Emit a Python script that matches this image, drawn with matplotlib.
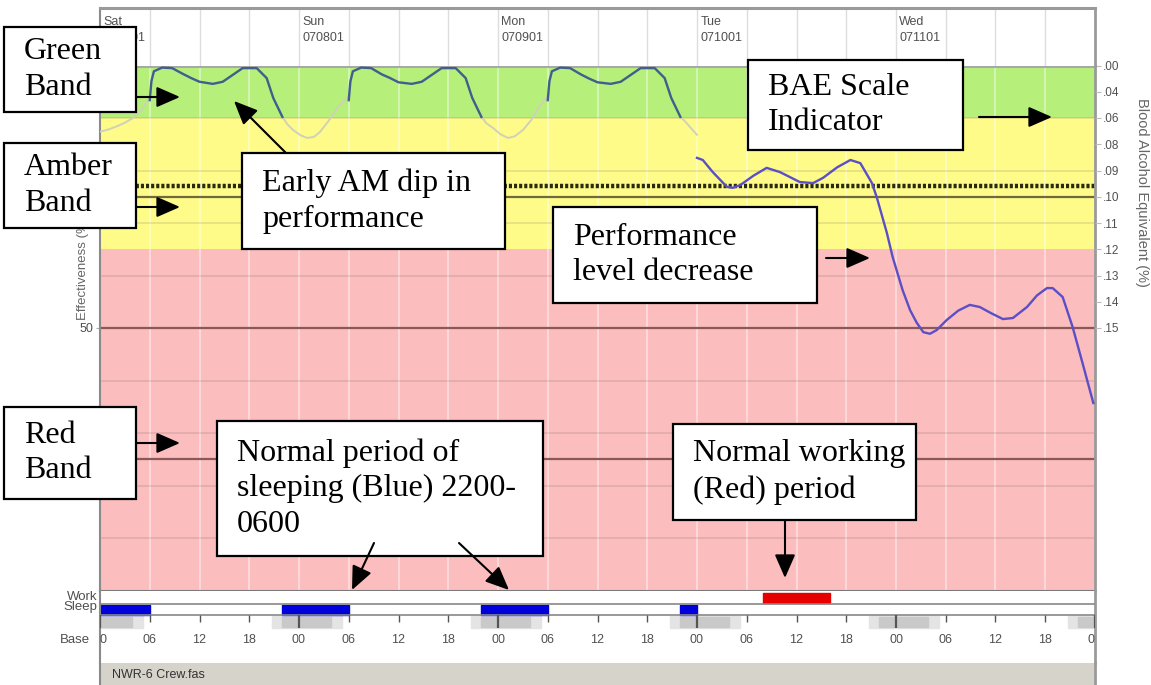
import matplotlib
matplotlib.use("Agg")
import matplotlib.pyplot as plt
from matplotlib.patches import Rectangle, FancyArrowPatch

W, H = 1151, 685

#######################
# Data (hours counted from Sat 00:00, effectiveness in %)
#######################

# awake periods (dark line)
sat_h = [6.0, 6.2, 6.5, 7.5, 8.7, 10.0, 11.0, 12.0, 13.6, 14.8, 16.0, 17.2, 18.9, 20.1, 20.9, 22.0]
sat_eff = [93.4, 97.0, 98.9, 99.6, 99.5, 98.4, 97.6, 96.9, 96.5, 96.9, 98.2, 99.5, 99.5, 97.6, 93.8, 90.2]
sun_h = [30.0, 30.2, 30.5, 31.5, 32.7, 34.0, 35.0, 36.0, 37.6, 38.8, 40.0, 41.2, 42.9, 44.1, 44.9, 46.0]
sun_eff = [93.4, 97.0, 98.9, 99.6, 99.5, 98.3, 97.6, 96.8, 96.5, 96.9, 98.2, 99.5, 99.5, 97.6, 93.8, 90.2]
mon_h = [54.0, 54.2, 54.5, 55.5, 56.7, 58.0, 59.0, 60.0, 61.6, 62.8, 64.0, 65.2, 66.9, 68.1, 68.9, 70.0]
mon_eff = [93.4, 97.0, 98.9, 99.6, 99.5, 98.3, 97.5, 96.8, 96.5, 96.9, 98.2, 99.5, 99.5, 97.6, 93.8, 90.2]
tue_h = [72.0, 72.7, 73.9, 75.6, 76.3, 77.2, 78.8, 80.4, 82.0, 84.4, 86.0, 87.2, 88.9, 90.5,
         91.7, 93.1, 93.7, 94.9, 95.6, 96.8, 97.7, 98.5, 99.3, 100.1, 100.9, 102.1, 103.5,
         104.9, 106.1, 107.5, 108.9, 110.1, 111.8, 113.0, 114.2, 114.9, 116.1, 117.3, 118.5, 119.8]
tue_eff = [82.4, 82.0, 79.7, 76.9, 76.7, 77.2, 79.0, 80.5, 79.7, 77.8, 77.6, 78.6, 80.6, 82.0,
           81.4, 77.6, 74.8, 68.1, 63.5, 57.2, 53.4, 51.0, 49.2, 48.9, 49.6, 51.5, 53.3,
           54.4, 54.0, 52.8, 51.7, 51.9, 54.0, 56.2, 57.6, 57.6, 55.9, 50.2, 43.3, 35.7]

# sleep periods (faint line)
night0_h = [0.0, 1.0, 2.0, 3.0, 4.0, 5.0, 6.0]
night0_eff = [87.4, 87.8, 88.4, 89.1, 90.0, 91.6, 93.8]
night1_h = [22.0, 22.6, 23.3, 24.2, 25.0, 25.8, 26.5, 27.5, 28.9, 29.9]
night1_eff = [90.2, 88.8, 87.7, 86.7, 86.2, 86.4, 87.3, 89.3, 92.5, 94.0]
night2_h = [46.0, 46.6, 47.4, 48.3, 49.2, 50.0, 51.0, 52.0, 53.1, 54.0]
night2_eff = [90.2, 89.0, 88.1, 86.9, 86.2, 86.5, 87.7, 89.6, 92.5, 94.2]
night3_h = [70.0, 70.6, 71.2, 72.0]
night3_eff = [90.2, 89.3, 88.2, 86.8]

# bands
band_low = [90, 65, 0]
band_high = [100, 90, 65]
band_colors = ["#b6ef7a", "#fefb88", "#fbbdbd"]

# right-hand scale
bae_eff = [100, 95, 90, 85, 80, 75, 70, 65, 60, 55, 50]
bae_labels = [".00", ".04", ".06", ".08", ".09", ".10", ".11", ".12", ".13", ".14", ".15"]

# schedule rows
sleep_start = [0, 22, 46, 70]
sleep_end = [6, 30, 54, 72]
work_start = [80]
work_end = [88]
base_start = [-3.3, 20.7, 44.7, 68.7, 92.7, 116.7]
base_end = [5.2, 29.2, 53.2, 77.2, 101.2, 125.2]

day_names = ["Sat", "Sun", "Mon", "Tue", "Wed"]
day_codes = ["070701", "070801", "070901", "071001", "071101"]

#######################
# Figure
#######################
fig = plt.figure(figsize=(W / 100, H / 100), dpi=100)
fig.patch.set_facecolor("white")
ui_font = "Liberation Sans"
ui_col = "#505050"


def ax_at(x0, y0, x1, y1):
    return fig.add_axes([x0 / W, 1 - y1 / H, (x1 - x0) / W, (y1 - y0) / H])


X0, X1 = 100, 1095

# main plot
ax = ax_at(X0, 65.5, X1, 590.5)
ax.set_xlim(0, 120)
ax.set_ylim(0, 100)
for lo, hi, c in zip(band_low, band_high, band_colors):
    ax.axhspan(lo, hi, color=c, lw=0, zorder=0)
for v in range(6, 120, 6):
    ax.axvline(v, color="white", alpha=0.5, lw=1.2, zorder=1)
for v in range(10, 100, 10):
    ax.axhline(v, color="#6a5a5a", alpha=0.16, lw=1.3, zorder=1)
ax.axhline(50, color="#8a5858", lw=1.6, zorder=2)
ax.axhline(25, color="#8a5858", lw=1.6, zorder=2)
ax.axhline(75, color="#6e6a3c", lw=1.6, zorder=2)
ax.axhline(77, color="#2a2a10", lw=3.2, ls=(0, (0.7, 0.45)), zorder=2)

for hh, ee in [(night0_h, night0_eff), (night1_h, night1_eff), (night2_h, night2_eff), (night3_h, night3_eff)]:
    ax.plot(hh, ee, color="#cfd1b8", lw=1.4, zorder=3)
for hh, ee in [(sat_h, sat_eff), (sun_h, sun_eff), (mon_h, mon_eff)]:
    ax.plot(hh, ee, color="#3f5f8c", lw=1.7, zorder=4)
ax.plot(tue_h, tue_eff, color="#5c4fc6", lw=1.7, zorder=4)

ax.set_xticks([])
ax.set_yticks([50])
ax.set_yticklabels(["50"], fontsize=9, color=ui_col, family=ui_font)
ax.tick_params(axis="y", length=3, color="#aaaaaa", pad=2)
ax.spines["left"].set_color("#8a8a8a")
ax.spines["left"].set_linewidth(1.5)
ax.spines["right"].set_color("#9a9a9a")
ax.spines["right"].set_linewidth(2)
ax.spines["top"].set_color("#a8a8a8")
ax.spines["top"].set_linewidth(2.2)
ax.spines["bottom"].set_color("#7a7a7a")
ax.spines["bottom"].set_linewidth(1.5)

axr = ax.twinx()
axr.set_ylim(0, 100)
axr.set_yticks(bae_eff)
axr.set_yticklabels(bae_labels, fontsize=8.5, color=ui_col, family=ui_font)
axr.tick_params(axis="y", length=4, color="#bbbbbb", pad=2)
for s in axr.spines.values():
    s.set_visible(False)

fig.text(83 / W, 1 - 268 / H, "Effectiveness (%)", rotation=90, ha="center", va="center",
         fontsize=9.5, color="#666666", family=ui_font)
fig.text(1142 / W, 1 - 192 / H, "Blood Alcohol Equivalent (%)", rotation=270, ha="center", va="center",
         fontsize=10.5, color="#666666", family=ui_font)

# header with day labels
hd = ax_at(X0, 8, X1, 65.5)
hd.set_xlim(0, 120)
hd.set_ylim(0, 1)
for v in range(6, 120, 6):
    hd.axvline(v, color="#dddddd", lw=1)
for d, (name, code) in enumerate(zip(day_names, day_codes)):
    hd.text(d * 24 + 0.4, 0.76, name, fontsize=9, color=ui_col, va="center", family=ui_font)
    hd.text(d * 24 + 0.4, 0.48, code, fontsize=9, color=ui_col, va="center", family=ui_font)
hd.set_xticks([])
hd.set_yticks([])
hd.spines["bottom"].set_visible(False)
hd.spines["top"].set_color("#9a9a9a")
hd.spines["top"].set_linewidth(2.2)
hd.spines["left"].set_color("#8a8a8a")
hd.spines["left"].set_linewidth(1.5)
hd.spines["right"].set_color("#9a9a9a")
hd.spines["right"].set_linewidth(2)

# work / sleep / base rows
bt = ax_at(X0, 590.5, X1, 663)
bt.set_xlim(0, 120)
bt.set_ylim(72.5, 0)
bt.broken_barh([(s, e - s) for s, e in zip(base_start, base_end)], (25.5, 12), color="#e4e4e4", zorder=1)
bt.broken_barh([(s + 1.3, e - s - 2.6) for s, e in zip(base_start, base_end)], (26.5, 10), color="#c9c9c9", zorder=1)
bt.broken_barh([(s, e - s) for s, e in zip(work_start, work_end)], (2.5, 10), color="#e60000", zorder=2)
bt.broken_barh([(s, e - s) for s, e in zip(sleep_start, sleep_end)], (14, 10.5), color="#0000dd", zorder=2)
for yy in [13.2, 24.8]:
    bt.axhline(yy, color="#888888", lw=1.2, zorder=3)
for v in range(0, 121, 6):
    if v % 24 == 0:
        bt.vlines(v, 24.8, 37, color="#555555", lw=1.6, zorder=3)
    else:
        bt.vlines(v, 24.8, 31, color="#555555", lw=1.0, zorder=3)
    bt.text(v, 49.5, "%02d" % (v % 24), ha="center", va="center", fontsize=9, color=ui_col,
            family=ui_font, clip_on=True)
bt.set_xticks([])
bt.set_yticks([])
bt.spines["top"].set_visible(False)
bt.spines["bottom"].set_visible(False)
bt.spines["left"].set_color("#8a8a8a")
bt.spines["left"].set_linewidth(1.5)
bt.spines["right"].set_color("#9a9a9a")
bt.spines["right"].set_linewidth(2)

fig.text(97 / W, 1 - 597 / H, "Work", ha="right", va="center", fontsize=9.5, color=ui_col, family=ui_font)
fig.text(97 / W, 1 - 607 / H, "Sleep", ha="right", va="center", fontsize=9.5, color=ui_col, family=ui_font)
fig.text(90 / W, 1 - 640 / H, "Base", ha="right", va="center", fontsize=9.5, color=ui_col, family=ui_font)

# footer
ft = ax_at(X0, 663, X1, 685)
ft.set_facecolor("#d6d3cb")
ft.set_xticks([])
ft.set_yticks([])
for s in ft.spines.values():
    s.set_visible(False)
ft.spines["left"].set_visible(True)
ft.spines["left"].set_color("#8a8a8a")
ft.spines["left"].set_linewidth(1.5)
ft.spines["right"].set_visible(True)
ft.spines["right"].set_color("#9a9a9a")
ft.spines["right"].set_linewidth(2)
ft.text(0.012, 0.45, "NWR-6 Crew.fas", va="center", fontsize=9, color="#333333", family=ui_font)

#######################
# Annotation boxes and arrows
#######################
box_font = "Liberation Serif"


def note(x0, y0, x1, y1, text, pad=20):
    fig.patches.append(Rectangle((x0 / W, 1 - y1 / H), (x1 - x0) / W, (y1 - y0) / H,
                                 transform=fig.transFigure, fc="white", ec="black", lw=1.6, zorder=10))
    fig.text((x0 + pad) / W, 1 - (y0 + y1) / 2 / H, text, ha="left", va="center", fontsize=23,
             family=box_font, linespacing=1.3, zorder=11)


def arrow(xa, ya, xb, yb):
    fig.patches.append(FancyArrowPatch((xa / W, 1 - ya / H), (xb / W, 1 - yb / H), transform=fig.transFigure,
                                       arrowstyle="-|>,head_length=0.8,head_width=0.35", mutation_scale=18,
                                       color="black", lw=1.5, shrinkA=0, shrinkB=0, zorder=12))


note(4, 27, 136, 112, "Green\nBand")
note(4, 143, 136, 228, "Amber\nBand")
note(4, 407, 136, 499, "Red\nBand")
note(242, 153, 505, 249, "Early AM dip in\nperformance")
note(748, 60, 963, 150, "BAE Scale\nIndicator")
note(553, 207, 817, 303, "Performance\nlevel decrease")
note(217, 421, 543, 556, "Normal period of\nsleeping (Blue) 2200-\n0600")
note(673, 424, 916, 520, "Normal working\n(Red) period")

arrow(136, 97, 180, 97)
arrow(136, 207, 180, 207)
arrow(136, 443, 180, 443)
arrow(286, 153, 234, 101)
arrow(979, 117, 1052, 117)
arrow(826, 258, 870, 258)
arrow(374, 543, 352, 590)
arrow(459, 543, 509, 590)
arrow(785, 520, 785, 578)

fig.savefig("out.png", dpi=100, facecolor="white")
